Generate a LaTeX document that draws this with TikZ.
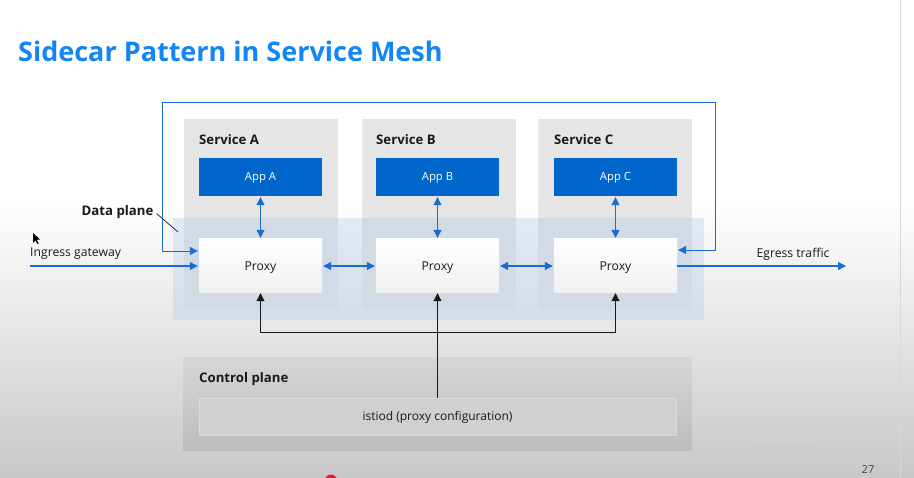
\documentclass[tikz,border=0pt]{standalone}
\usepackage{fontspec}
\setmainfont{Open Sans}
\usetikzlibrary{arrows.meta}
\definecolor{titleblue}{RGB}{18,134,246}
\definecolor{appblue}{RGB}{0,102,204}
\definecolor{linkblue}{RGB}{24,108,210}
\definecolor{ink}{RGB}{25,25,25}
\definecolor{srvgray}{RGB}{229,229,229}
\definecolor{bandblue}{RGB}{170,198,232}
\definecolor{bgbottom}{RGB}{200,200,200}
\definecolor{edgegray}{RGB}{215,215,215}
\definecolor{ctrltop}{RGB}{214,214,214}
\definecolor{ctrlbottom}{RGB}{188,188,188}
\definecolor{istiodfill}{RGB}{208,208,208}
\definecolor{istiodedge}{RGB}{218,218,218}
\definecolor{pagegray}{RGB}{70,70,70}
\definecolor{footgray}{RGB}{200,200,200}
\definecolor{recred}{RGB}{235,20,50}
\tikzset{
  srvbox/.style={rectangle, fill=srvgray, draw=none, minimum width=154, minimum height=190, inner sep=0},
  appbox/.style={rectangle, fill=appblue, text=white, font=\fontsize{11.3}{13}\selectfont, text height=8pt, text depth=0pt, minimum width=123, minimum height=38, inner sep=0},
  proxybox/.style={rectangle, top color=white, bottom color=white!94!black, text=ink, font=\fontsize{12.2}{14}\selectfont, text height=8.7pt, text depth=0pt, minimum width=123, minimum height=54, inner sep=0},
  heading/.style={font=\bfseries\fontsize{13.2}{15}\selectfont, text=ink, inner sep=0, anchor=west},
  plainlabel/.style={font=\fontsize{12.2}{14}\selectfont, text=ink, inner sep=0},
  barrow/.style={draw=linkblue, line width=1.1pt, -{Triangle[length=8pt,width=8pt]}},
  bbiarrow/.style={draw=linkblue, line width=1.1pt, {Triangle[length=8pt,width=8pt]}-{Triangle[length=8pt,width=8pt]}},
  karrow/.style={draw=ink, line width=1pt, -{Triangle[length=8pt,width=8pt]}},
  kline/.style={draw=ink, line width=1pt},
}
\begin{document}
\begin{tikzpicture}[x=1pt,y=-1pt]
% slide background: white top fading to grey
\useasboundingbox (0,0) rectangle (914,478);
\fill[white] (0,0) rectangle (914,200);
\shade[top color=white, bottom color=bgbottom] (0,199) rectangle (914,478);
\draw[edgegray, line width=0.8pt] (900,0) -- (900,478);

% title
\node[anchor=base west, inner sep=0, text=titleblue, font=\bfseries\fontsize{27}{32}\selectfont] (title) at (18,62) {Sidecar Pattern in Service Mesh};

% services
\node[srvbox] (srvA) at (261,214) {};
\node[srvbox] (srvB) at (438.5,214) {};
\node[srvbox] (srvC) at (615,214) {};
\node[heading] (lblA) at (199,139.5) {Service A};
\node[heading] (lblB) at (376,139.5) {Service B};
\node[heading] (lblC) at (554,139.5) {Service C};

% data plane band
\node[rectangle, fill=bandblue, fill opacity=0.32, minimum width=531, minimum height=102, inner sep=0] (dp) at (438.5,269) {};

% apps
\node[appbox] (appA) at (260.5,177) {App A};
\node[appbox] (appB) at (437.5,177) {App B};
\node[appbox] (appC) at (615.5,177) {App C};

% sidecar proxies
\node[proxybox] (proxyA) at (260.5,266) {Proxy};
\node[proxybox] (proxyB) at (437.5,266) {Proxy};
\node[proxybox] (proxyC) at (615.5,266) {Proxy};

% control plane
\node[rectangle, top color=ctrltop, bottom color=ctrlbottom, minimum width=509, minimum height=93, inner sep=0] (ctrl) at (437.5,404.5) {};
\node[heading] (lblCtrl) at (199,379.5) {Control plane};
\node[rectangle, fill=istiodfill, draw=istiodedge, line width=0.6pt, minimum width=477, minimum height=37, inner sep=0, font=\fontsize{12}{14}\selectfont, text height=8.6pt, text depth=0pt, text=ink] (istiod) at (437.5,416.5) {istiod (proxy configuration)};

% app <-> proxy
\draw[bbiarrow, shorten <=1pt, shorten >=1pt] (appA.south) -- (proxyA.north);
\draw[bbiarrow, shorten <=1pt, shorten >=1pt] (appB.south) -- (proxyB.north);
\draw[bbiarrow, shorten <=1pt, shorten >=1pt] (appC.south) -- (proxyC.north);

% proxy <-> proxy
\draw[bbiarrow, shorten <=1pt, shorten >=1pt] (proxyA.east) -- (proxyB.west);
\draw[bbiarrow, shorten <=1pt, shorten >=1pt] (proxyB.east) -- (proxyC.west);

% ingress / egress
\coordinate (ingStart) at (30,266);
\coordinate (egrEnd) at (846,266);
\draw[barrow, shorten >=1pt] (ingStart) -- (proxyA.west);
\draw[barrow] (proxyC.east) -- (egrEnd);
\node[plainlabel, anchor=west] (ingLbl) at (30,254) {Ingress gateway};
\node[plainlabel] (egrLbl) at (793,254) {Egress traffic};

% mesh loop round the services
\coordinate (loopL) at (162,102);
\coordinate (loopR) at (715,250);
\draw[bbiarrow, line width=0.9pt, shorten <=1pt, shorten >=1pt] ([yshift=15pt]proxyA.west) -| (loopL) -| (loopR) -- ([yshift=16pt]proxyC.east);

% data plane callout
\node[font=\bfseries\fontsize{13.2}{15}\selectfont, text=ink, inner sep=0] (dpLbl) at (117.5,212.5) {Data plane};
\coordinate (dpTip) at (178,232);
\draw[ink, line width=0.7pt] ([xshift=3pt,yshift=-1pt]dpLbl.east) -- (dpTip);

% configuration push from istiod
\coordinate (bus) at (0,333);
\draw[karrow] (istiod.north) -- (proxyB.south);
\draw[kline] (proxyA.south |- bus) -- (proxyC.south |- bus);
\draw[karrow] (proxyA.south |- bus) -- (proxyA.south);
\draw[karrow] (proxyC.south |- bus) -- (proxyC.south);

% page furniture
\node[inner sep=0, text=pagegray, font=\fontsize{11}{13}\selectfont] (pageNo) at (868,470) {27};
\fill[recred] (331,480.5) circle (6);
\node[inner sep=0, text=footgray, font=\fontsize{8}{10}\selectfont, anchor=west] (foot) at (754,449) {© OpenShift 2022};
% mouse pointer
\fill[black] (33,233) -- (33,243) -- (35.5,240.5) -- (37.5,244) -- (38.8,243.3) -- (36.8,239.8) -- (40,239.5) -- cycle;
\end{tikzpicture}
\end{document}
